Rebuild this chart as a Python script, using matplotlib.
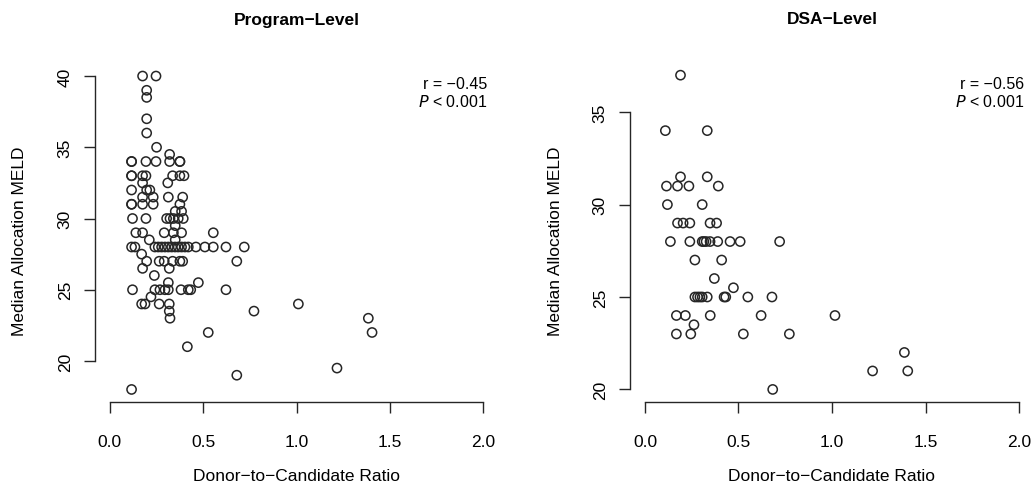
import matplotlib
matplotlib.use("Agg")
import matplotlib.pyplot as plt

plt.rcParams['font.family'] = ['Liberation Sans', 'DejaVu Sans']

# program-level points (ratio, median allocation MELD)
prog_x = [0.175, 0.247, 0.197, 0.197, 0.197, 0.197, 0.25, 0.32,
          0.116, 0.116, 0.193, 0.247, 0.32, 0.375, 0.375,
          0.116, 0.116, 0.175, 0.193, 0.336, 0.375, 0.397,
          0.175, 0.31,
          0.116, 0.197, 0.214,
          0.175, 0.232, 0.313, 0.39,
          0.116, 0.116, 0.175, 0.232, 0.375,
          0.35, 0.384,
          0.121, 0.193, 0.304, 0.322, 0.34, 0.366, 0.393,
          0.35,
          0.139, 0.175, 0.291, 0.34, 0.384, 0.554,
          0.211, 0.35,
          0.116, 0.134, 0.241, 0.259, 0.277, 0.295, 0.313, 0.331, 0.349,
          0.366, 0.384, 0.402, 0.42, 0.461, 0.509, 0.554, 0.622, 0.72,
          0.17,
          0.197, 0.264, 0.291, 0.336, 0.375, 0.39, 0.68,
          0.175, 0.318,
          0.238,
          0.313, 0.474,
          0.121, 0.241, 0.268, 0.295, 0.313, 0.381, 0.42, 0.433, 0.622,
          0.22,
          0.17, 0.188, 0.264, 0.318, 1.01,
          0.318, 0.772,
          0.322, 1.385,
          0.527, 1.405,
          0.415, 1.217, 0.68, 0.116]
prog_y = [40, 40, 39, 38.5, 37, 36, 35, 34.5,
          34, 34, 34, 34, 34, 34, 34,
          33, 33, 33, 33, 33, 33, 33,
          32.5, 32.5,
          32, 32, 32,
          31.5, 31.5, 31.5, 31.5,
          31, 31, 31, 31, 31,
          30.5, 30.5,
          30, 30, 30, 30, 30, 30, 30,
          29.5,
          29, 29, 29, 29, 29, 29,
          28.5, 28.5,
          28, 28, 28, 28, 28, 28, 28, 28, 28,
          28, 28, 28, 28, 28, 28, 28, 28, 28,
          27.5,
          27, 27, 27, 27, 27, 27, 27,
          26.5, 26.5,
          26,
          25.5, 25.5,
          25, 25, 25, 25, 25, 25, 25, 25, 25,
          24.5,
          24, 24, 24, 24, 24,
          23.5, 23.5,
          23, 23,
          22, 22,
          21, 19.5, 19, 18]

# DSA-level points
dsa_x = [0.19, 0.109, 0.333, 0.19, 0.333,
         0.115, 0.174, 0.235, 0.392,
         0.12, 0.306,
         0.174, 0.204, 0.24, 0.348, 0.383,
         0.136, 0.24, 0.306, 0.315, 0.327, 0.348, 0.389, 0.455, 0.509, 0.72,
         0.267, 0.41,
         0.371,
         0.473,
         0.267, 0.281, 0.294, 0.306, 0.333, 0.423, 0.432, 0.55, 0.679,
         0.168, 0.216, 0.349, 0.621, 1.016,
         0.262,
         0.168, 0.245, 0.526, 0.772,
         1.387, 1.217, 1.405, 0.683]
dsa_y = [37, 34, 34, 31.5, 31.5,
         31, 31, 31, 31,
         30, 30,
         29, 29, 29, 29, 29,
         28, 28, 28, 28, 28, 28, 28, 28, 28, 28,
         27, 27,
         26,
         25.5,
         25, 25, 25, 25, 25, 25, 25, 25, 25,
         24, 24, 24, 24, 24,
         23.5,
         23, 23, 23, 23,
         22, 21, 21, 20]

titles = ['Program\u2212Level', 'DSA\u2212Level']
r_texts = ['r = \u22120.45', 'r = \u22120.56']
xlabel = 'Donor\u2212to\u2212Candidate Ratio'
ylabel = 'Median Allocation MELD'

ink = '#262626'
W, H = 1034, 489
fig = plt.figure(figsize=(W / 100, H / 100), dpi=100)

# axes rectangles in pixels: left, top, right, bottom (R style, 4% padding)
boxes = [(95, 64.5, 498, 403), (630, 63.6, 1034, 403)]
panels = [(prog_x, prog_y, (17.12, 40.88), [20, 25, 30, 35, 40]),
          (dsa_x, dsa_y, (19.32, 37.68), [20, 25, 30, 35])]

for i, (box, (xs, ys, ylim, yticks)) in enumerate(zip(boxes, panels)):
    l, t, r, b = box
    ax = fig.add_axes([l / W, 1 - b / H, (r - l) / W, (b - t) / H])
    ax.scatter(xs, ys, s=44, facecolors='none', edgecolors=ink, linewidths=1.1)
    ax.set_xlim(-0.08, 2.08)
    ax.set_ylim(*ylim)
    ax.set_xticks([0, 0.5, 1.0, 1.5, 2.0])
    ax.set_xticklabels(['0.0', '0.5', '1.0', '1.5', '2.0'])
    ax.set_yticks(yticks)
    ax.set_yticklabels([str(v) for v in yticks], rotation=90, va='center')
    for side in ['top', 'right']:
        ax.spines[side].set_visible(False)
    ax.spines['left'].set_bounds(yticks[0], yticks[-1])
    ax.spines['bottom'].set_bounds(0, 2)
    for side in ['left', 'bottom']:
        ax.spines[side].set_color(ink)
        ax.spines[side].set_linewidth(1.0)
    ax.tick_params(axis='x', length=8, width=1.0, color=ink, pad=15, labelsize=12.5)
    ax.tick_params(axis='y', length=8, width=1.0, color=ink, pad=8, labelsize=12.5)

    cx = (l + r) / 2
    fig.text(cx / W, 1 - 20 / H, titles[i], ha='center', va='center',
             fontsize=12.5, fontweight='bold')
    fig.text(cx / W, 1 - 477 / H, xlabel, ha='center', va='center', fontsize=12.5)
    fig.text((l - 75) / W, 1 - ((t + b) / 2 + 8) / H, ylabel, rotation=90,
             ha='center', va='center', fontsize=12.5)

    tx = 487 if i == 0 else 1024
    fig.text(tx / W, 1 - 85 / H, r_texts[i], ha='right', va='center', fontsize=11.5)
    fig.text(tx / W, 1 - 102 / H, '$P$ < 0.001', ha='right', va='center', fontsize=11.5)

fig.savefig('out.png', dpi=100)
